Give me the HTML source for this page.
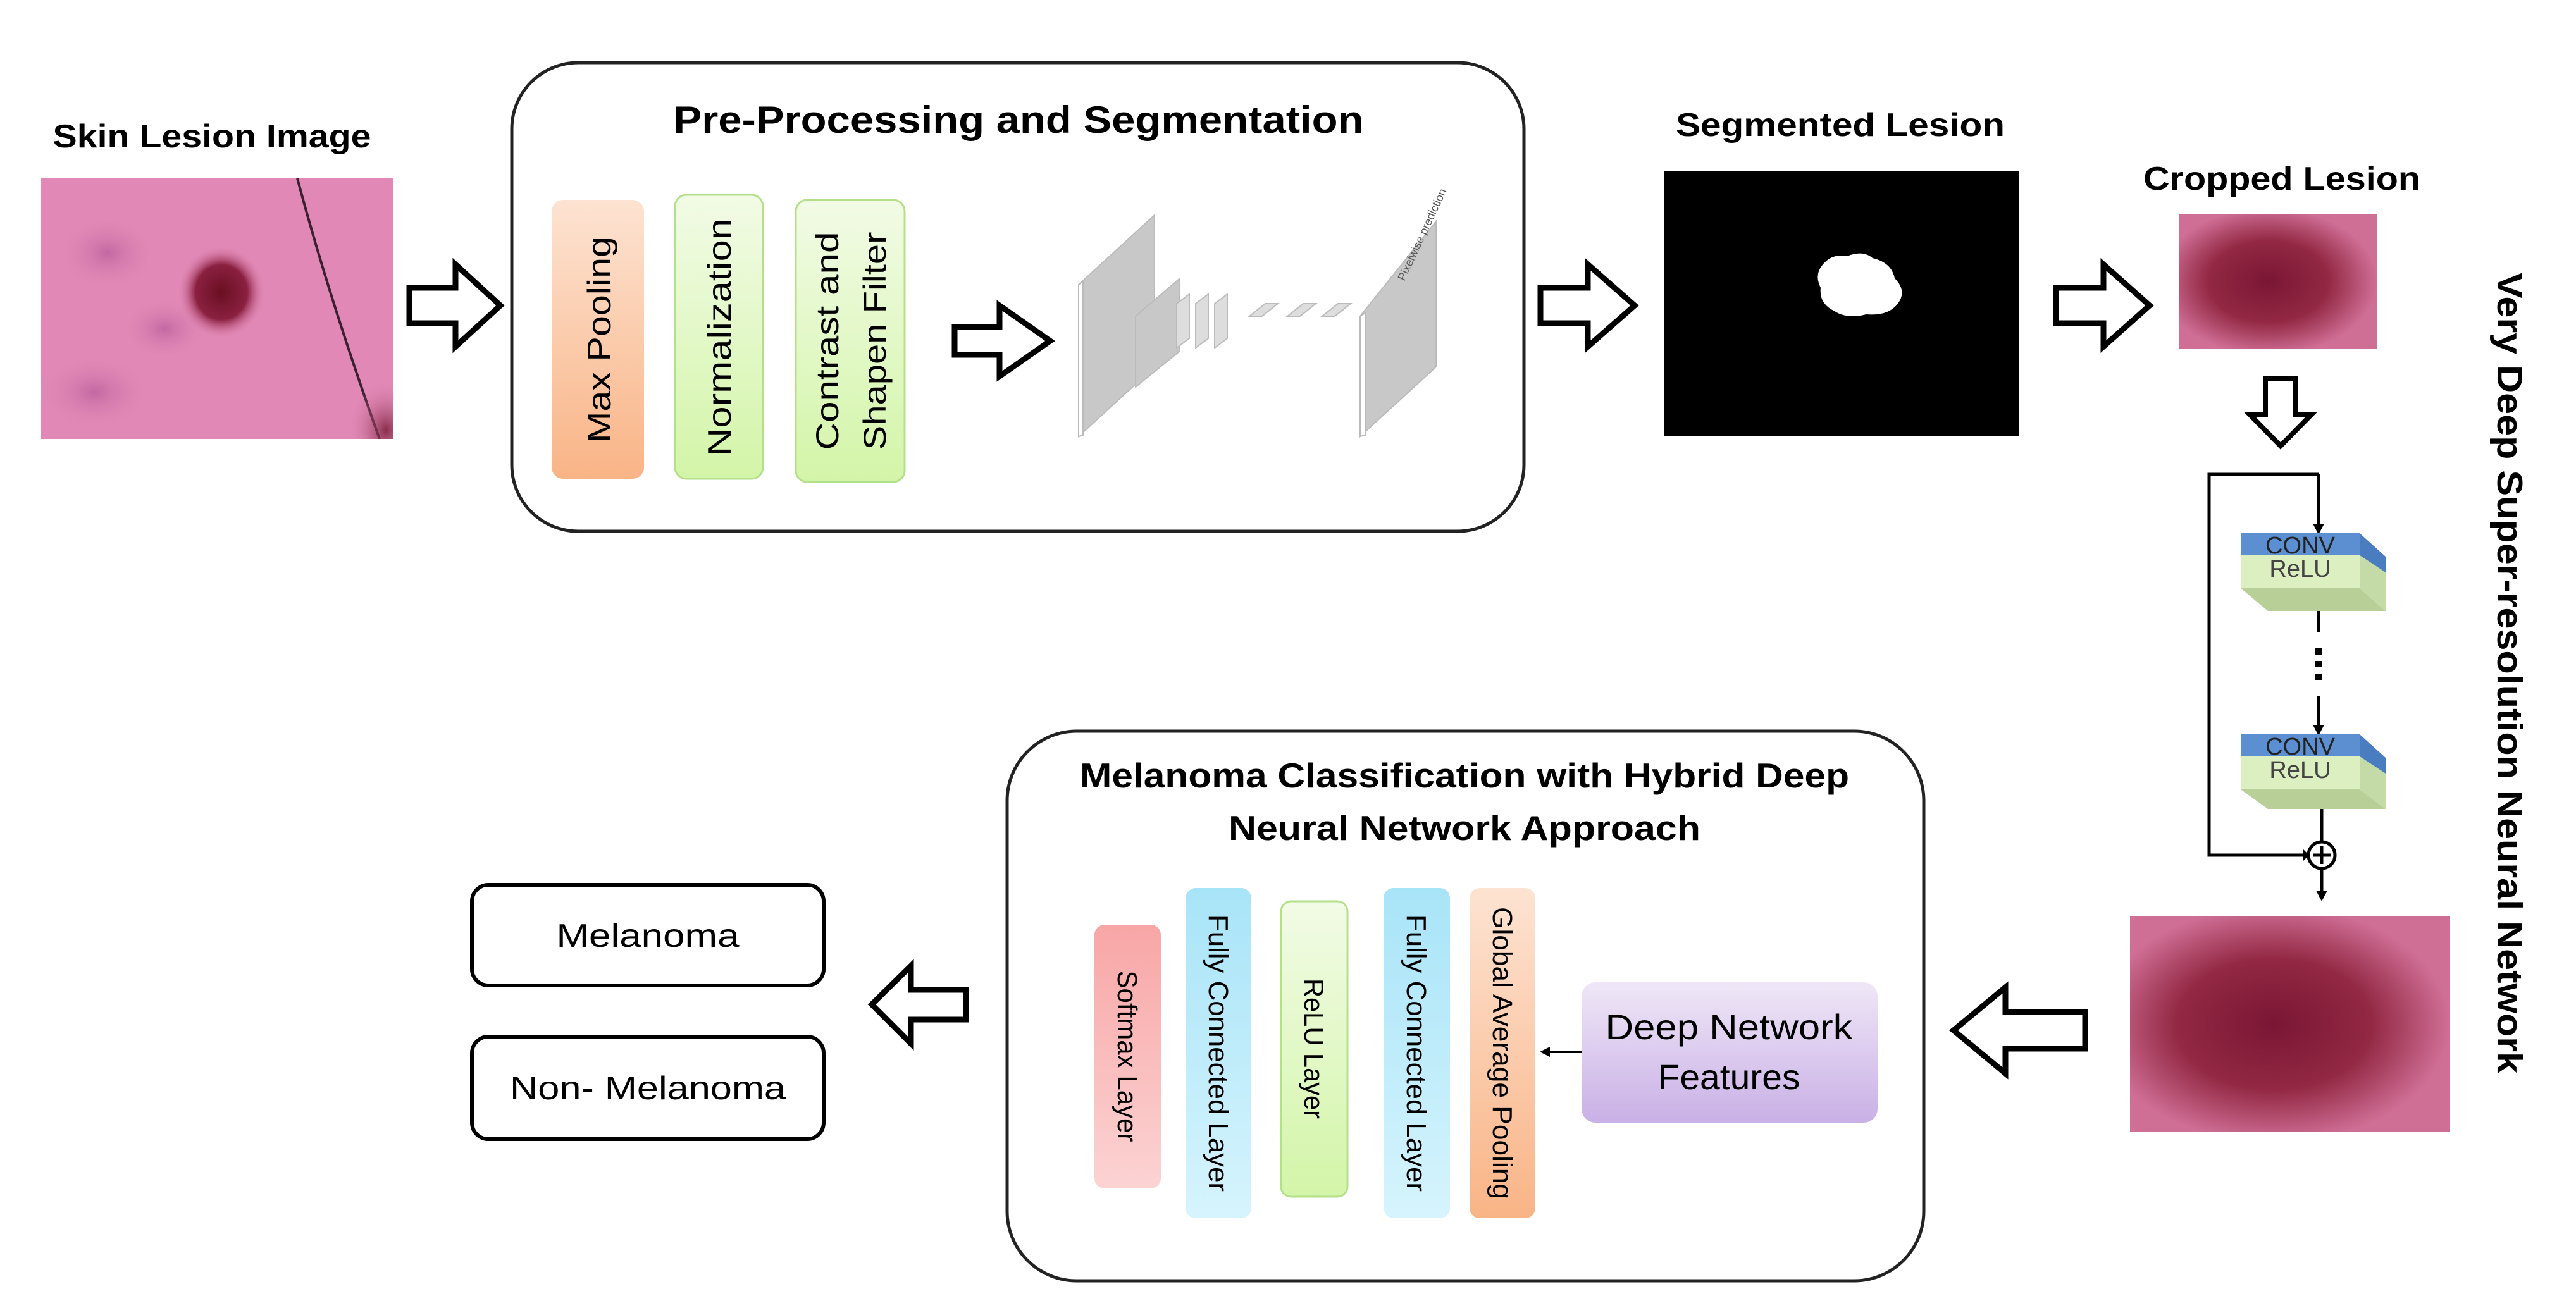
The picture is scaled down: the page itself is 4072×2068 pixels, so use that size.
<!DOCTYPE html>
<html><head><meta charset="utf-8"><style>
html,body{margin:0;padding:0;background:#fff;}
svg{display:block;}
text{font-family:"Liberation Sans",sans-serif;}
</style></head><body>
<svg width="4072" height="2068" viewBox="0 0 4072 2068" xmlns="http://www.w3.org/2000/svg">
<defs>
<linearGradient id="gOr" x1="0" y1="0" x2="0" y2="1"><stop offset="0" stop-color="#fde3d2"/><stop offset="1" stop-color="#f9b486"/></linearGradient>
<linearGradient id="gGr" x1="0" y1="0" x2="0" y2="1"><stop offset="0" stop-color="#f2fbe6"/><stop offset="1" stop-color="#d3f5a8"/></linearGradient>
<linearGradient id="gPk" x1="0" y1="0" x2="0" y2="1"><stop offset="0" stop-color="#f8a6a6"/><stop offset="1" stop-color="#fcd3d3"/></linearGradient>
<linearGradient id="gCy" x1="0" y1="0" x2="0" y2="1"><stop offset="0" stop-color="#a8e4f8"/><stop offset="1" stop-color="#d6f4fd"/></linearGradient>
<linearGradient id="gPu" x1="0" y1="0" x2="0" y2="1"><stop offset="0" stop-color="#efe7f7"/><stop offset="1" stop-color="#c9b0e6"/></linearGradient>
<radialGradient id="spot" cx="0.5" cy="0.5" r="0.5"><stop offset="0" stop-color="#6a0f22"/><stop offset="0.6" stop-color="#8a2040"/><stop offset="1" stop-color="#d77aa4" stop-opacity="0"/></radialGradient>
<radialGradient id="bigspot" cx="0.45" cy="0.5" r="0.55"><stop offset="0" stop-color="#7a1634"/><stop offset="0.55" stop-color="#922843"/><stop offset="1" stop-color="#d06f96"/></radialGradient>
<radialGradient id="blot" cx="0.5" cy="0.5" r="0.5"><stop offset="0" stop-color="#b85a9a" stop-opacity="0.7"/><stop offset="1" stop-color="#e08ab4" stop-opacity="0"/></radialGradient>
<radialGradient id="corner" cx="0.5" cy="0.5" r="0.5"><stop offset="0" stop-color="#7a1f3a" stop-opacity="0.85"/><stop offset="1" stop-color="#e188b6" stop-opacity="0"/></radialGradient>
<clipPath id="skinclip"><rect x="65" y="282" width="556" height="412"/></clipPath>
</defs>

<text x="335" y="233" font-size="52" font-weight="bold" text-anchor="middle" textLength="503" lengthAdjust="spacingAndGlyphs">Skin Lesion Image</text>
<g clip-path="url(#skinclip)">
<rect x="65" y="282" width="556" height="412" fill="#e188b6"/>
<ellipse cx="170" cy="400" rx="80" ry="60" fill="url(#blot)"/>
<ellipse cx="150" cy="620" rx="90" ry="60" fill="url(#blot)"/>
<ellipse cx="260" cy="520" rx="70" ry="50" fill="url(#blot)"/>
<ellipse cx="350" cy="462" rx="68" ry="72" fill="url(#spot)"/>
<path d="M470 282 Q520 470 600 694" stroke="#3a2030" stroke-width="4" fill="none"/>
<ellipse cx="610" cy="680" rx="60" ry="80" fill="url(#corner)"/>
</g>

<polygon points="647,455 720,455 720,418 791,483 720,548 720,511 647,511" fill="#fff" stroke="#000" stroke-width="9"/>

<rect x="809" y="99" width="1600" height="741" rx="105" fill="#fff" stroke="#222" stroke-width="5"/>
<text x="1610" y="210" font-size="60" font-weight="bold" text-anchor="middle" textLength="1091" lengthAdjust="spacingAndGlyphs">Pre-Processing and Segmentation</text>
<rect x="872" y="316" width="146" height="441" rx="18" fill="url(#gOr)"/>
<text transform="translate(965,537) rotate(-90)" font-size="52" text-anchor="middle" textLength="326" lengthAdjust="spacingAndGlyphs">Max Pooling</text>
<rect x="1067" y="308" width="139" height="449" rx="18" fill="url(#gGr)" stroke="#b5e08a" stroke-width="3"/>
<text transform="translate(1155,533) rotate(-90)" font-size="52" text-anchor="middle" textLength="376" lengthAdjust="spacingAndGlyphs">Normalization</text>
<rect x="1258" y="316" width="172" height="446" rx="18" fill="url(#gGr)" stroke="#b5e08a" stroke-width="3"/>
<text transform="translate(1325,539) rotate(-90)" font-size="50" text-anchor="middle" textLength="345" lengthAdjust="spacingAndGlyphs">Contrast and</text>
<text transform="translate(1400,539) rotate(-90)" font-size="50" text-anchor="middle" textLength="345" lengthAdjust="spacingAndGlyphs">Shapen Filter</text>
<polygon points="1509,517 1580,517 1580,483 1660,539 1580,595 1580,561 1509,561" fill="#fff" stroke="#000" stroke-width="9"/>

<g stroke="#bbb" stroke-width="2">
<polygon points="1705,450 1825,340 1825,580 1705,690" fill="#c8c8c8"/>
<polygon points="1705,450 1712,445 1712,688 1705,690" fill="#fff"/>
<polygon points="1795,500 1865,440 1865,555 1795,612" fill="#c8c8c8"/>
<polygon points="1860,480 1880,465 1880,535 1860,550" fill="#ddd"/>
<polygon points="1890,480 1910,465 1910,535 1890,550" fill="#ddd"/>
<polygon points="1920,480 1940,465 1940,535 1920,550" fill="#ddd"/>
<polygon points="1975,500 2000,480 2020,480 1995,500" fill="#ddd"/>
<polygon points="2035,500 2060,480 2080,480 2055,500" fill="#ddd"/>
<polygon points="2090,500 2115,480 2135,480 2110,500" fill="#ddd"/>
<polygon points="2150,500 2270,350 2270,580 2150,690" fill="#c8c8c8"/>
<polygon points="2150,500 2158,495 2158,688 2150,690" fill="#fff"/>
</g>
<text transform="translate(2220,445) rotate(-65)" font-size="18" fill="#555" font-family="Liberation Serif">Pixelwise prediction</text>

<polygon points="2435,455 2510,455 2510,418 2584,483 2510,548 2510,511 2435,511" fill="#fff" stroke="#000" stroke-width="9"/>

<text x="2909" y="215" font-size="52" font-weight="bold" text-anchor="middle" textLength="520" lengthAdjust="spacingAndGlyphs">Segmented Lesion</text>
<rect x="2631" y="271" width="561" height="418" fill="#000"/>
<path d="M2880 420 Q2895 400 2920 405 Q2945 395 2960 408 Q2990 415 2995 440 Q3015 460 3000 480 Q2985 500 2950 497 Q2920 505 2900 492 Q2875 480 2878 455 Q2868 435 2880 420 Z" fill="#fff"/>

<polygon points="3250,455 3325,455 3325,418 3398,483 3325,548 3325,511 3250,511" fill="#fff" stroke="#000" stroke-width="9"/>

<text x="3607" y="300" font-size="52" font-weight="bold" text-anchor="middle" textLength="438" lengthAdjust="spacingAndGlyphs">Cropped Lesion</text>
<rect x="3445" y="339" width="313" height="212" fill="url(#bigspot)"/>

<polygon points="3581,598 3628,598 3628,655 3654,655 3605,705 3556,655 3581,655" fill="#fff" stroke="#000" stroke-width="8"/>

<g stroke="#000" stroke-width="5" fill="none">
<polyline points="3665,750 3492,750 3492,1352 3648,1352"/>
<line x1="3665" y1="750" x2="3665" y2="830"/>
<line x1="3665" y1="966" x2="3665" y2="1000"/>
<line x1="3665" y1="1100" x2="3665" y2="1148"/>
<line x1="3670" y1="1279" x2="3670" y2="1331"/>
<line x1="3670" y1="1373" x2="3670" y2="1410"/>
<circle cx="3670" cy="1352" r="21"/>
<line x1="3656" y1="1352" x2="3684" y2="1352"/><line x1="3670" y1="1338" x2="3670" y2="1366"/>
</g>
<g fill="#000">
<polygon points="3656,828 3674,828 3665,845"/>
<polygon points="3656,1146 3674,1146 3665,1163"/>
<polygon points="3641,1343 3641,1361 3650,1352"/>
<polygon points="3661,1408 3679,1408 3670,1425"/>
<rect x="3660" y="1025" width="10" height="10"/><rect x="3660" y="1045" width="10" height="10"/><rect x="3660" y="1065" width="10" height="10"/>
</g>
<g>
<rect x="3542" y="843" width="188" height="35" fill="#5b8fd1"/>
<polygon points="3730,843 3771,880 3771,905 3730,878" fill="#4a7dc0"/>
<rect x="3542" y="878" width="188" height="52" fill="#dcefc0"/>
<polygon points="3542,930 3730,930 3771,966 3585,966" fill="#b9cf98"/>
<polygon points="3730,878 3771,905 3771,966 3730,930" fill="#c5dba7"/>
<text x="3636" y="875" font-size="38" text-anchor="middle" font-family="Liberation Serif" fill="#222">CONV</text>
<text x="3636" y="912" font-size="38" text-anchor="middle" font-family="Liberation Serif" fill="#444">ReLU</text>
</g>
<g transform="translate(0,318)">
<rect x="3542" y="843" width="188" height="35" fill="#5b8fd1"/>
<polygon points="3730,843 3771,880 3771,905 3730,878" fill="#4a7dc0"/>
<rect x="3542" y="878" width="188" height="52" fill="#dcefc0"/>
<polygon points="3542,930 3730,930 3771,961 3585,961" fill="#b9cf98"/>
<polygon points="3730,878 3771,905 3771,961 3730,930" fill="#c5dba7"/>
<text x="3636" y="875" font-size="38" text-anchor="middle" font-family="Liberation Serif" fill="#222">CONV</text>
<text x="3636" y="912" font-size="38" text-anchor="middle" font-family="Liberation Serif" fill="#444">ReLU</text>
</g>

<rect x="3367" y="1449" width="506" height="341" fill="url(#bigspot)"/>
<text transform="translate(3948,1064) rotate(90)" font-size="57" font-weight="bold" text-anchor="middle" textLength="1266" lengthAdjust="spacingAndGlyphs">Very Deep Super-resolution Neural Network</text>

<polygon points="3296,1600 3170,1600 3170,1561 3088,1629 3170,1697 3170,1658 3296,1658" fill="#fff" stroke="#000" stroke-width="9"/>

<rect x="1592" y="1156" width="1449" height="869" rx="110" fill="#fff" stroke="#222" stroke-width="5"/>
<text x="2315" y="1245" font-size="55" font-weight="bold" text-anchor="middle" textLength="1216" lengthAdjust="spacingAndGlyphs">Melanoma Classification with Hybrid Deep</text>
<text x="2315" y="1328" font-size="55" font-weight="bold" text-anchor="middle" textLength="746" lengthAdjust="spacingAndGlyphs">Neural Network Approach</text>

<rect x="1730" y="1462" width="105" height="417" rx="16" fill="url(#gPk)"/>
<text transform="translate(1767,1670) rotate(90)" font-size="44" text-anchor="middle" textLength="271" lengthAdjust="spacingAndGlyphs">Softmax Layer</text>
<rect x="1874" y="1404" width="104" height="522" rx="16" fill="url(#gCy)"/>
<text transform="translate(1911,1665) rotate(90)" font-size="44" text-anchor="middle" textLength="438" lengthAdjust="spacingAndGlyphs">Fully Connected Layer</text>
<rect x="2025" y="1425" width="105" height="467" rx="16" fill="url(#gGr)" stroke="#b5e08a" stroke-width="3"/>
<text transform="translate(2062,1658) rotate(90)" font-size="44" text-anchor="middle" textLength="222" lengthAdjust="spacingAndGlyphs">ReLU Layer</text>
<rect x="2187" y="1404" width="105" height="522" rx="16" fill="url(#gCy)"/>
<text transform="translate(2224,1665) rotate(90)" font-size="44" text-anchor="middle" textLength="438" lengthAdjust="spacingAndGlyphs">Fully Connected Layer</text>
<rect x="2323" y="1404" width="104" height="522" rx="16" fill="url(#gOr)"/>
<text transform="translate(2360,1665) rotate(90)" font-size="44" text-anchor="middle" textLength="462" lengthAdjust="spacingAndGlyphs">Global Average Pooling</text>

<rect x="2500" y="1553" width="468" height="222" rx="22" fill="url(#gPu)"/>
<text x="2733" y="1643" font-size="56" text-anchor="middle" textLength="391" lengthAdjust="spacingAndGlyphs">Deep Network</text>
<text x="2733" y="1722" font-size="56" text-anchor="middle" textLength="225" lengthAdjust="spacingAndGlyphs">Features</text>
<line x1="2500" y1="1663" x2="2448" y2="1663" stroke="#000" stroke-width="4"/>
<polygon points="2434,1663 2450,1655 2450,1671" fill="#000"/>

<polygon points="1527,1565 1440,1565 1440,1527 1378,1588 1440,1650 1440,1612 1527,1612" fill="#fff" stroke="#000" stroke-width="9"/>

<rect x="746" y="1399" width="556" height="159" rx="26" fill="#fff" stroke="#000" stroke-width="6"/>
<text x="1024" y="1497" font-size="52" text-anchor="middle" textLength="289" lengthAdjust="spacingAndGlyphs">Melanoma</text>
<rect x="746" y="1639" width="556" height="162" rx="26" fill="#fff" stroke="#000" stroke-width="6"/>
<text x="1024" y="1738" font-size="52" text-anchor="middle" textLength="436" lengthAdjust="spacingAndGlyphs">Non- Melanoma</text>
</svg>
</body></html>
